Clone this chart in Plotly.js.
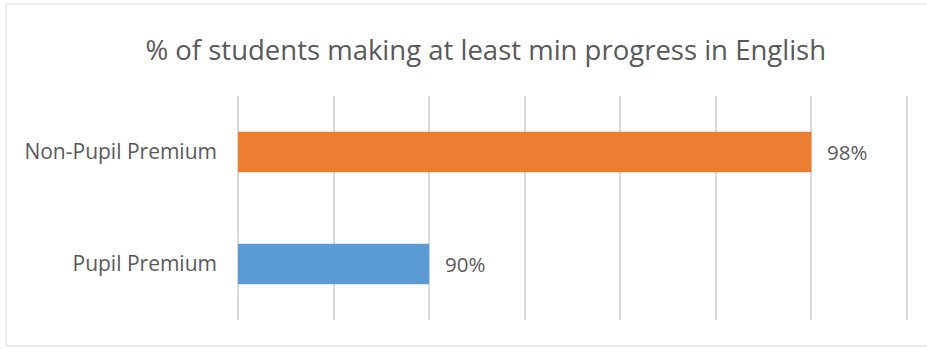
<!DOCTYPE html>
<html>
<head>
<meta charset="utf-8">
<script src="https://cdn.plot.ly/plotly-3.0.1.min.js"></script>
<style>html,body{margin:0;padding:0;background:#fff;}#chart{width:927px;height:349px;}</style>
</head>
<body>
<div id="chart"></div>
<script>
const categories = ['Pupil Premium', 'Non-Pupil Premium'];
const values = [90, 98];
const barColors = ['#5B9BD5', '#ED7D31'];
const chartTitle = '% of students making at least min progress in English';

const font = "'Open Sans', 'Noto Sans', sans-serif";
const textColor = '#595959';

const data = [{
  type: 'bar',
  orientation: 'h',
  y: categories,
  x: values,
  marker: {color: barColors},
  width: 0.36,
  hoverinfo: 'none'
}];

const annotations = categories.map((c, i) => ({
  x: values[i], y: c, xref: 'x', yref: 'y',
  text: values[i] + '%', showarrow: false,
  xanchor: 'left', yanchor: 'middle', xshift: 14,
  font: {family: font, size: 20.5, color: textColor}
}));

const edgeGrid = [0, 1].map(px => ({
  type: 'line', xref: 'paper', yref: 'paper',
  x0: px, x1: px, y0: 0, y1: 1,
  line: {color: '#d9d9d9', width: 2}, layer: 'below'
}));

const layout = {
  width: 927, height: 349,
  margin: {l: 238, r: 20, t: 96, b: 29},
  paper_bgcolor: '#ffffff', plot_bgcolor: '#ffffff',
  showlegend: false,
  title: {
    text: chartTitle,
    font: {family: font, size: 27.5, color: textColor},
    x: 0.524, xref: 'container', xanchor: 'center',
    y: 0.857, yref: 'container', yanchor: 'middle'
  },
  xaxis: {
    range: [86, 100], dtick: 2, tick0: 86,
    showticklabels: false, ticks: '',
    showgrid: true, gridcolor: '#d9d9d9', gridwidth: 2,
    zeroline: false, showline: false, fixedrange: true
  },
  yaxis: {
    type: 'category',
    showgrid: false, zeroline: false, showline: false,
    ticks: '', ticklabelstandoff: 20,
    tickfont: {family: font, size: 21, color: textColor},
    fixedrange: true
  },
  annotations: annotations,
  shapes: [{
    type: 'rect', xref: 'paper', yref: 'paper',
    x0: (6 - 238) / 669, x1: (935 - 238) / 669,
    y0: (320 - 346) / 224, y1: (320 - 4) / 224,
    line: {color: '#d9d9d9', width: 1}, fillcolor: 'rgba(0,0,0,0)', layer: 'below'
  }].concat(edgeGrid)
};

Plotly.newPlot('chart', data, layout, {displayModeBar: false, staticPlot: true});
</script>
</body>
</html>
